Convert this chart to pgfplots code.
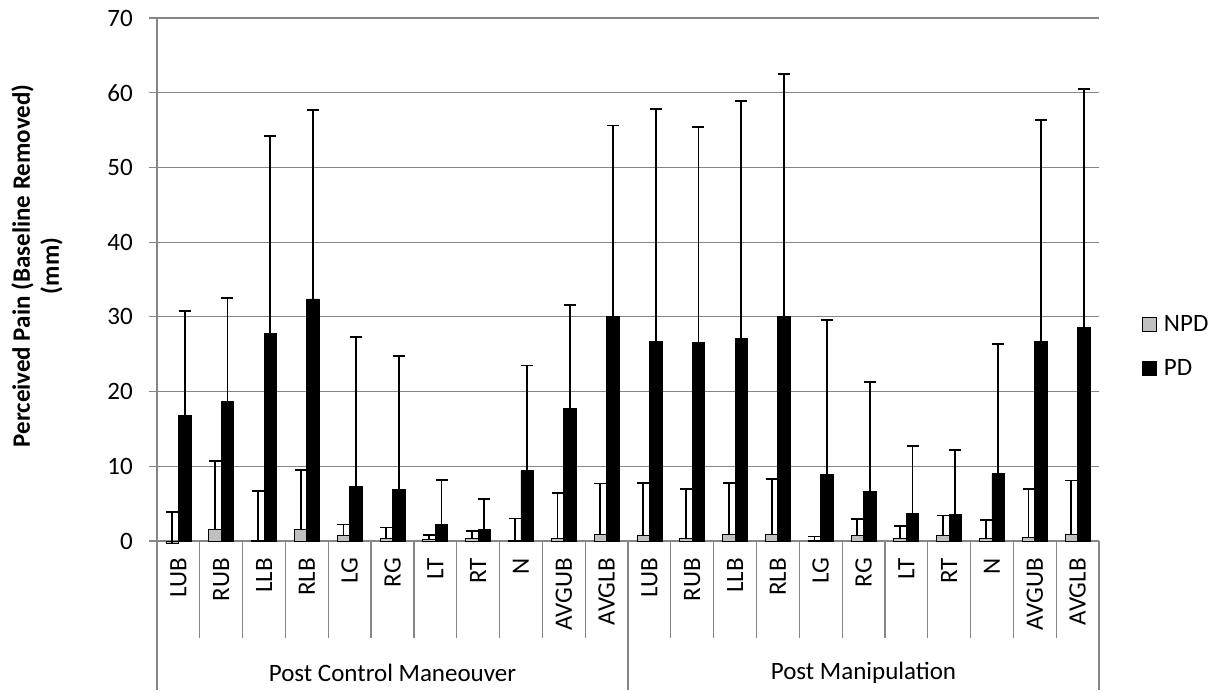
\documentclass[border=0pt]{standalone}
\usepackage{fontspec}
\setmainfont{Carlito}
\usepackage{pgfplots}
\usepackage{pgfplotstable}
\pgfplotsset{compat=1.18}
\definecolor{gridgray}{HTML}{868686}
\definecolor{npdgray}{HTML}{C0C0C0}

\pgfplotstableread{
x npd npde pd pde
0 -0.3 4.2 16.8 14.0
1 1.5 9.2 18.7 13.8
2 0.1 6.6 27.8 26.4
3 1.6 7.9 32.4 25.3
4 0.7 1.5 7.3 20.0
5 0.4 1.4 6.9 17.9
6 0.2 0.65 2.2 6.0
7 0.3 1.0 1.6 4.0
8 0.1 2.9 9.4 14.1
9 0.4 6.0 17.8 13.8
10 0.9 6.8 30.1 25.5
11 0.7 7.1 26.7 31.1
12 0.3 6.7 26.6 28.8
13 0.9 6.9 27.1 31.8
14 0.9 7.4 30.0 32.5
15 0.1 0.5 8.9 20.7
16 0.7 2.2 6.6 14.7
17 0.4 1.6 3.7 9.0
18 0.8 2.6 3.6 8.6
19 0.3 2.55 9.0 17.4
20 0.5 6.5 26.7 29.6
21 0.9 7.2 28.6 31.9
}\datatable

\newcommand{\chartfont}{\fontsize{25}{30}\selectfont}

\begin{document}
\begin{tikzpicture}[x=1pt,y=1pt]
\useasboundingbox (0,0) rectangle (1223,692);
\begin{axis}[
  at={(157pt,151pt)}, anchor=south west,
  scale only axis, width=942pt, height=523pt,
  xmin=-0.5, xmax=21.5, ymin=0, ymax=70,
  ybar=0pt, bar width=12.5pt,
  axis x line=bottom, axis y line=left,
  axis line style={-, draw=gridgray, line width=1.2pt},
  ytick={0,10,...,70},
  ymajorgrids, grid style={gridgray, line width=1.2pt},
  xtick={0,...,21},
  xticklabels={LUB,RUB,LLB,RLB,LG,RG,LT,RT,N,AVGUB,AVGLB,LUB,RUB,LLB,RLB,LG,RG,LT,RT,N,AVGUB,AVGLB},
  minor xtick={-0.5,0.5,...,21.5},
  tick align=outside,
  major tick length=8pt, minor tick length=97pt,
  major x tick style={draw=none},
  y tick style={gridgray, line width=1.2pt},
  minor x tick style={gridgray, line width=1.2pt},
  xticklabel style={rotate=90, anchor=east, inner ysep=0pt, inner xsep=9pt, font=\chartfont},
  yticklabel style={font=\chartfont, inner sep=0pt, xshift=-16pt},
  /pgf/number format/assume math mode=true,
  clip=false,
  legend style={draw=none, fill=none, at={(1.0456,0.372)}, anchor=west,
    font=\chartfont, row sep=22pt, inner sep=0pt},
  legend cell align=left,
  legend image code/.code={\draw[#1] (0pt,-7pt) rectangle (14pt,7pt); \path (19pt,0pt);},
]
\addplot[fill=npdgray, draw=black, line width=0.8pt,
  error bars/.cd, y dir=plus, y explicit,
  error mark=-, error bar style={black, line width=1.8pt},
  error mark options={rotate=90, black, line width=1.8pt, mark size=6pt}]
  table[x=x, y=npd, y error=npde] {\datatable};
\addlegendentry{NPD}
\addplot[fill=black, draw=black, line width=0.8pt,
  error bars/.cd, y dir=plus, y explicit,
  error mark=-, error bar style={black, line width=1.8pt},
  error mark options={rotate=90, black, line width=1.8pt, mark size=6pt}]
  table[x=x, y=pd, y error=pde] {\datatable};
\addlegendentry{PD}
\draw[gridgray, line width=1.2pt] (axis cs:-0.5,0) -- ++(0pt,-149pt);
\draw[gridgray, line width=1.2pt] (axis cs:10.5,0) -- ++(0pt,-149pt);
\draw[gridgray, line width=1.2pt] (axis cs:21.5,0) -- ++(0pt,-149pt);
\node[font=\chartfont] at (axis cs:5,0) [yshift=-132pt] {Post Control Maneouver};
\node[font=\chartfont] at (axis cs:16,0) [yshift=-132pt] {Post Manipulation};
\end{axis}
\node[rotate=90, align=center, font=\bfseries\fontsize{25}{29}\selectfont] at (37,426) {Perceived Pain (Baseline Removed)\\(mm)};
\end{tikzpicture}
\end{document}
